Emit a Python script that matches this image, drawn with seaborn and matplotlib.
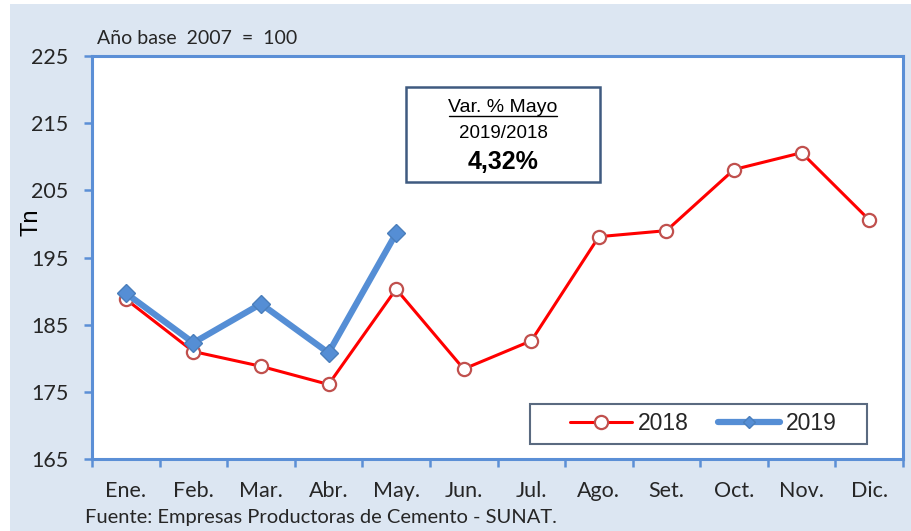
import numpy as np
import pandas as pd
import matplotlib
matplotlib.use("Agg")
import matplotlib.pyplot as plt
from matplotlib.patches import Rectangle
from matplotlib.lines import Line2D
import seaborn as sns

# ---- data ----
meses = ["Ene.", "Feb.", "Mar.", "Abr.", "May.", "Jun.", "Jul.", "Ago.", "Set.", "Oct.", "Nov.", "Dic."]
valores_2018 = [188.8, 181.0, 178.8, 176.1, 190.3, 178.4, 182.6, 198.1, 199.0, 208.1, 210.6, 200.6]
valores_2019 = [189.7, 182.3, 188.1, 180.8, 198.6]
yticks = [165, 175, 185, 195, 205, 215, 225]

df18 = pd.DataFrame({"mes": meses, "valor": valores_2018})
df19 = pd.DataFrame({"mes": meses[:len(valores_2019)], "valor": valores_2019})

sns.set_style("white")
plt.rcParams["font.family"] = ["Lato", "DejaVu Sans"]

W, H = 911, 531
fig = plt.figure(figsize=(W / 100, H / 100), dpi=100)
fig.patch.set_facecolor("white")
fig.add_artist(Rectangle((10 / W, 0), 1 - 10 / W, 1 - 4 / H, transform=fig.transFigure,
                         facecolor="#dce6f2", edgecolor="none", zorder=-10))

L, R, T, B = 92, 903, 56, 459
ax = fig.add_axes([L / W, 1 - B / H, (R - L) / W, (B - T) / H])
ax.set_facecolor("white")

red = "#ff0000"
blue = "#558ed5"
sns.lineplot(data=df18, x="mes", y="valor", ax=ax, color=red, linewidth=2.2, sort=False,
             marker="o", markersize=9.5, markerfacecolor="white", markeredgecolor="#c0504d",
             markeredgewidth=1.6, zorder=3)
sns.lineplot(data=df19, x="mes", y="valor", ax=ax, color=blue, linewidth=4.5, sort=False,
             marker="D", markersize=9, markerfacecolor=blue, markeredgecolor="#4a7ebb",
             markeredgewidth=1.0, zorder=4)

ax.set_xlim(-0.5, len(meses) - 0.5)
ax.set_ylim(165, 225)
ax.set_yticks(yticks)
ax.set_yticklabels([str(v) for v in yticks])
ax.set_xticks(range(len(meses)))
ax.set_xticklabels(meses)
ax.set_xticks(np.arange(-0.5, len(meses), 1), minor=True)

spine_c = "#5b8fd6"
for s in ax.spines.values():
    s.set_visible(True)
    s.set_color(spine_c)
    s.set_linewidth(2.2)

ax.tick_params(axis="y", which="major", length=6, width=1.8, color=spine_c, pad=11,
               labelsize=15.5, labelcolor="#262626", left=True)
ax.tick_params(axis="x", which="major", length=0, pad=16, labelsize=15.5, labelcolor="#262626")
ax.tick_params(axis="x", which="minor", length=6, width=1.8, color=spine_c, bottom=True)
ax.set_xlabel("")
ax.set_ylabel("Tn", fontsize=17, family=["Liberation Sans"], color="black")
ax.yaxis.set_label_coords((42 - L) / (R - L), (B - 222) / (B - T))

# annotation box
ax.add_patch(Rectangle(((406 - L) / (R - L), (B - 182) / (B - T)), (600 - 406) / (R - L),
                       (182 - 87) / (B - T), transform=ax.transAxes, facecolor="white",
                       edgecolor="#3f5a80", linewidth=1.8, zorder=5))
cx = (503 - L) / (R - L)
ax.text(cx, (B - 107) / (B - T), "Var. % Mayo", transform=ax.transAxes, ha="center", va="center",
        fontsize=14, family=["Liberation Sans"], color="black", zorder=6)
ax.plot([(449 - L) / (R - L), (557 - L) / (R - L)], [(B - 115.5) / (B - T)] * 2,
        transform=ax.transAxes, color="black", linewidth=1.0, zorder=6)
ax.text(cx, (B - 133) / (B - T), "2019/2018", transform=ax.transAxes, ha="center", va="center",
        fontsize=13.5, family=["Liberation Sans"], color="black", zorder=6)
ax.text(cx, (B - 162) / (B - T), "4,32%", transform=ax.transAxes, ha="center", va="center",
        fontsize=18, fontweight="bold", family=["Liberation Sans"], color="black", zorder=6)

# legend
ax.add_patch(Rectangle(((530 - L) / (R - L), (B - 444) / (B - T)), (867 - 530) / (R - L),
                       (444 - 404) / (B - T), transform=ax.transAxes, facecolor="white",
                       edgecolor="#5a6a80", linewidth=1.5, zorder=5))
handles = [
    Line2D([], [], color=red, linewidth=2.2, marker="o", markersize=9.5, markerfacecolor="white",
           markeredgecolor="#c0504d", markeredgewidth=1.6),
    Line2D([], [], color=blue, linewidth=4.5, marker="D", markersize=6, markerfacecolor=blue,
           markeredgecolor="#4a7ebb"),
]
leg = ax.legend(handles, ["2018", "2019"], loc="center", ncol=2, frameon=False,
                bbox_to_anchor=((703.5 - L) / (R - L), (B - 424) / (B - T)),
                prop={"family": "Liberation Sans", "size": 16.5}, handlelength=2.7,
                handletextpad=0.25, columnspacing=1.3)
leg.set_zorder(7)
for t in leg.get_texts():
    t.set_color("#262626")

fig.text(97 / W, 1 - 39 / H, "Año base  2007  =  100", ha="left", va="center", fontsize=14,
         color="#262626")
fig.text(85 / W, 1 - 518 / H, "Fuente: Empresas Productoras de Cemento - SUNAT.", ha="left",
         va="center", fontsize=14.5, color="#262626")

fig.savefig("out.png", dpi=100, facecolor=fig.get_facecolor())
